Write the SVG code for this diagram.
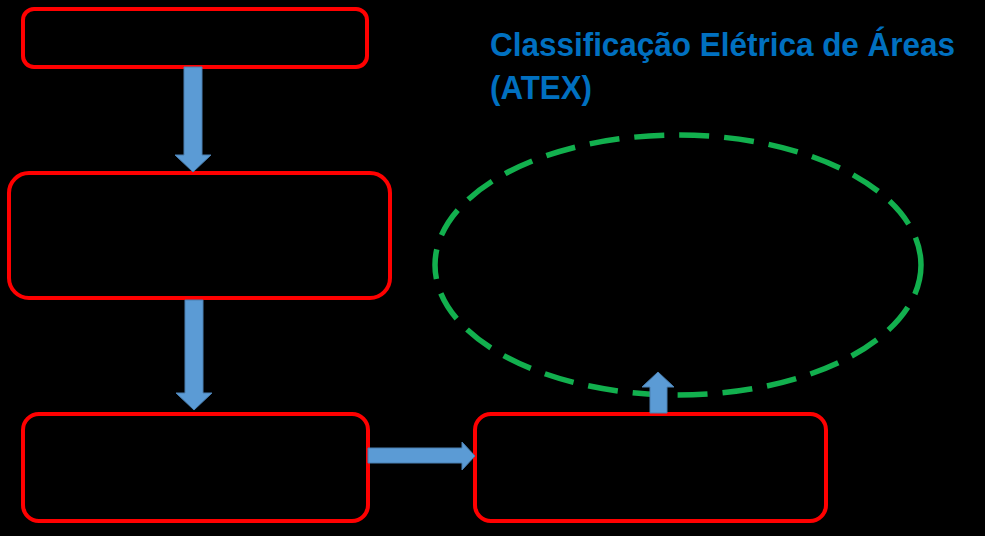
<svg xmlns="http://www.w3.org/2000/svg" width="985" height="536" viewBox="0 0 985 536">
<style>
.box{fill:#000;stroke:#ff0000;stroke-width:4}
.arr{fill:#5b9bd5;stroke:#4a7fb0;stroke-width:1}
.title{font-family:"Liberation Sans",Arial,sans-serif;font-weight:bold;font-size:33px;fill:#0070c0}
</style>
<rect width="985" height="536" fill="#000"/>
<g id="title">
<text class="title" x="490" y="56" textLength="465" lengthAdjust="spacingAndGlyphs">Classificação Elétrica de Áreas</text>
<text class="title" x="490" y="99" textLength="102" lengthAdjust="spacingAndGlyphs">(ATEX)</text>
</g>
<g id="zone">
<ellipse cx="678" cy="265" rx="243" ry="130" fill="none" stroke="#12b04e" stroke-width="5.5" stroke-dasharray="30 15"/>
</g>
<g id="box1"><rect class="box" x="23" y="9" width="344" height="58" rx="11"/></g>
<g id="box2"><rect class="box" x="9" y="173" width="381" height="125" rx="20"/></g>
<g id="box3"><rect class="box" x="23" y="414" width="345" height="107" rx="16"/></g>
<g id="box4"><rect class="box" x="475" y="414" width="351" height="107" rx="16"/></g>
<g id="connectors">
<polygon class="arr" points="184,67 202,67 202,155 211,155 193,172 175,155 184,155"/>
<polygon class="arr" points="185,300 203,300 203,393 212,393 194,410 176,393 185,393"/>
<polygon class="arr" points="368,448 462,448 462,442 475,456 462,470 462,463 368,463"/>
<polygon class="arr" points="650,413 667,413 667,387 674,387 658,372 642,387 650,387"/>
</g>
</svg>
